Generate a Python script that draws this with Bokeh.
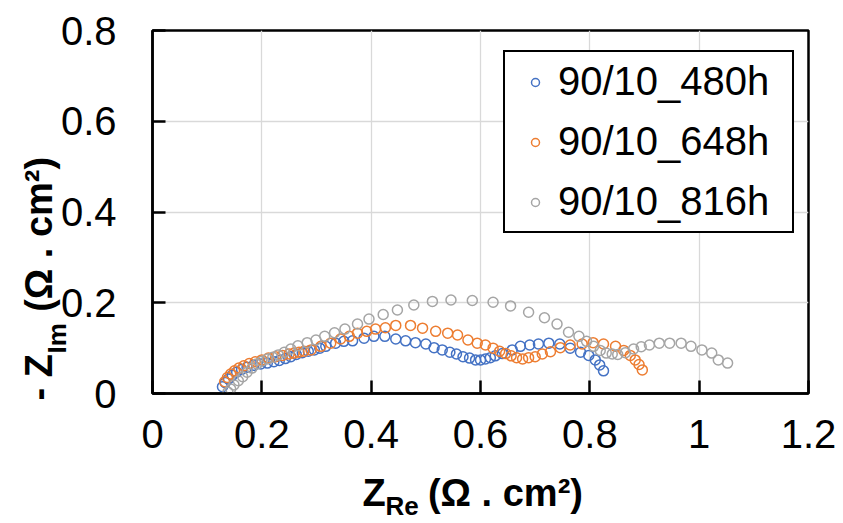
import math
from bokeh.plotting import figure
from bokeh.models import (Range1d, FixedTicker, CustomJSTickFormatter, Legend,
                          LegendItem, Label)
from bokeh.embed import file_html
from bokeh.resources import INLINE

series_names = ["90/10_480h", "90/10_648h", "90/10_816h"]
series_colors = ["#4472C4", "#ED7D31", "#A5A5A5"]

x_480 = [0.128, 0.133, 0.139, 0.146, 0.154, 0.163, 0.173, 0.185, 0.198, 0.210,
         0.222, 0.232, 0.243, 0.253, 0.263, 0.274, 0.285, 0.296, 0.306, 0.317,
         0.335, 0.350, 0.366, 0.387, 0.405, 0.425, 0.445, 0.463, 0.481, 0.500,
         0.515, 0.530, 0.544, 0.556, 0.568, 0.580, 0.591, 0.600, 0.609, 0.618,
         0.627, 0.640, 0.658, 0.673, 0.690, 0.706, 0.725, 0.745, 0.764, 0.783,
         0.798, 0.810, 0.818, 0.825]
y_480 = [0.015, 0.024, 0.032, 0.040, 0.047, 0.053, 0.058, 0.062, 0.065, 0.067,
         0.070, 0.073, 0.077, 0.081, 0.086, 0.090, 0.093, 0.096, 0.100, 0.104,
         0.111, 0.115, 0.116, 0.122, 0.126, 0.126, 0.120, 0.116, 0.112, 0.109,
         0.101, 0.096, 0.091, 0.087, 0.081, 0.078, 0.074, 0.074, 0.076, 0.079,
         0.083, 0.088, 0.096, 0.104, 0.107, 0.109, 0.111, 0.109, 0.100, 0.091,
         0.084, 0.074, 0.063, 0.050]

x_648 = [0.132, 0.137, 0.143, 0.150, 0.158, 0.167, 0.177, 0.188, 0.200, 0.212,
         0.225, 0.238, 0.250, 0.259, 0.268, 0.277, 0.290, 0.308, 0.326, 0.344,
         0.360, 0.375, 0.392, 0.408, 0.426, 0.445, 0.472, 0.494, 0.518, 0.540,
         0.558, 0.577, 0.594, 0.609, 0.623, 0.635, 0.646, 0.656, 0.666, 0.677,
         0.688, 0.700, 0.713, 0.728, 0.746, 0.764, 0.786, 0.806, 0.825, 0.847,
         0.862, 0.874, 0.883, 0.890, 0.896]
y_648 = [0.026, 0.035, 0.043, 0.050, 0.056, 0.061, 0.066, 0.070, 0.074, 0.078,
         0.081, 0.084, 0.087, 0.089, 0.091, 0.093, 0.096, 0.104, 0.111, 0.120,
         0.126, 0.133, 0.137, 0.142, 0.145, 0.150, 0.150, 0.144, 0.137, 0.133,
         0.129, 0.118, 0.111, 0.107, 0.100, 0.093, 0.088, 0.083, 0.079, 0.076,
         0.079, 0.081, 0.087, 0.092, 0.101, 0.107, 0.109, 0.112, 0.109, 0.104,
         0.095, 0.084, 0.074, 0.064, 0.052]

x_816 = [0.138, 0.143, 0.149, 0.157, 0.165, 0.173, 0.182, 0.191, 0.200, 0.210,
         0.220, 0.230, 0.241, 0.253, 0.266, 0.283, 0.299, 0.315, 0.333, 0.352,
         0.375, 0.396, 0.422, 0.448, 0.478, 0.512, 0.546, 0.585, 0.623, 0.655,
         0.688, 0.717, 0.740, 0.761, 0.780, 0.794, 0.807, 0.819, 0.830, 0.841,
         0.851, 0.865, 0.880, 0.894, 0.909, 0.927, 0.946, 0.967, 0.985, 1.005,
         1.023, 1.035, 1.052]
y_816 = [0.003, 0.010, 0.019, 0.028, 0.037, 0.047, 0.056, 0.065, 0.071, 0.076,
         0.080, 0.085, 0.091, 0.098, 0.105, 0.112, 0.118, 0.126, 0.134, 0.142,
         0.153, 0.164, 0.174, 0.184, 0.195, 0.203, 0.206, 0.205, 0.201, 0.193,
         0.179, 0.167, 0.153, 0.135, 0.126, 0.115, 0.104, 0.095, 0.089, 0.087,
         0.086, 0.090, 0.098, 0.103, 0.107, 0.111, 0.111, 0.111, 0.104, 0.096,
         0.089, 0.074, 0.067]

x_ticks = [0, 0.2, 0.4, 0.6, 0.8, 1.0, 1.2]
x_tick_labels = ["0", "0.2", "0.4", "0.6", "0.8", "1", "1.2"]
y_ticks = [0, 0.2, 0.4, 0.6, 0.8]
y_tick_labels = ["0", "0.2", "0.4", "0.6", "0.8"]

FONT = "Liberation Sans"
GAP = "\u00a0\u00a0\u00a0\u00a0"

p = figure(frame_width=656, frame_height=363,
           min_border_left=152, min_border_right=35,
           min_border_top=29, min_border_bottom=131,
           x_range=Range1d(0, 1.2), y_range=Range1d(0, 0.8),
           output_backend="svg", toolbar_location=None,
           background_fill_color="white", border_fill_color="white")

p.outline_line_color = "black"
p.outline_line_width = 2.5
p.outline_line_alpha = 1.0

renderers = []
for xs, ys, col in zip([x_480, x_648, x_816], [y_480, y_648, y_816], series_colors):
    r = p.scatter(xs, ys, marker="circle", size=10, fill_color=None,
                  line_color=col, line_width=1.5)
    renderers.append(r)

fmt_code = """
let best = 0; let bd = 1e9;
for (let i = 0; i < vals.length; i++) { const d = Math.abs(vals[i] - tick); if (d < bd) { bd = d; best = i; } }
return labs[best];
"""
p.xaxis.ticker = FixedTicker(ticks=x_ticks)
p.yaxis.ticker = FixedTicker(ticks=y_ticks)
p.xaxis.formatter = CustomJSTickFormatter(args=dict(vals=x_ticks, labs=x_tick_labels), code=fmt_code)
p.yaxis.formatter = CustomJSTickFormatter(args=dict(vals=y_ticks, labs=y_tick_labels), code=fmt_code)

for ax in (p.xaxis[0], p.yaxis[0]):
    ax.axis_line_color = "black"
    ax.axis_line_width = 2.5
    ax.major_tick_in = 13
    ax.major_tick_out = 0
    ax.major_tick_line_color = "black"
    ax.major_tick_line_width = 2.5
    ax.minor_tick_line_color = None
    ax.major_label_text_font = FONT
    ax.major_label_text_font_size = "40px"
    ax.major_label_text_color = "black"
p.xaxis.major_label_standoff = 26
p.yaxis.major_label_standoff = 36

p.xgrid.grid_line_color = "#D9D9D9"
p.ygrid.grid_line_color = "#D9D9D9"
p.xgrid.grid_line_width = 1.3
p.ygrid.grid_line_width = 1.3

legend = Legend(items=[LegendItem(label=n, renderers=[r]) for n, r in zip(series_names, renderers)],
                location=(351, 160), margin=0, padding=7, spacing=15,
                glyph_width=46, glyph_height=20, label_standoff=0, label_width=227,
                label_text_font=FONT, label_text_font_size="40px", label_text_color="black",
                border_line_color="black", border_line_width=2, border_line_alpha=1.0,
                background_fill_color="white", background_fill_alpha=1.0)
p.add_layout(legend)

def lab(text, x, y, size, side, angle=0.0):
    # canvas units: absolute pixel position; the side only decides which
    # margin panel hosts the text so that it is not clipped by the frame
    p.add_layout(Label(x=x, y=y, x_units="canvas", y_units="canvas", text=text,
                       text_font=FONT, text_font_size=size, text_font_style="bold",
                       text_color="black", text_align="left", text_baseline="middle",
                       angle=angle), side)

# x axis title: Z_Re (Ω . cm²)
lab("Z" + GAP + "(\u03a9 . cm\u00b2)", 362, 492, "38px", "below")
lab("Re", 385, 505, "26px", "right")

# y axis title: - Z_Im (Ω . cm²)
lab("- Z" + GAP + "(\u03a9 . cm\u00b2)", 38, 400, "38px", "left", math.pi / 2)
lab("Im", 56, 353, "26px", "above", math.pi / 2)

open("out.html", "w").write(file_html(p, INLINE))
